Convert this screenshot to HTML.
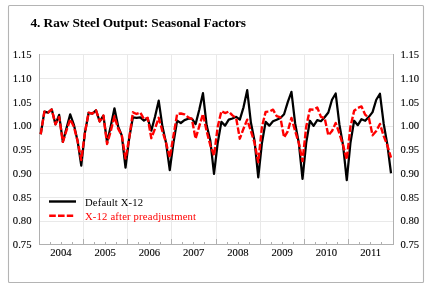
<!DOCTYPE html>
<html><head><meta charset="utf-8"><style>
html,body{margin:0;padding:0;background:#fff;}
svg{display:block;will-change:transform;}
text{font-family:"Liberation Serif",serif;}
</style></head><body>
<svg width="432" height="288" viewBox="0 0 432 288">
<rect x="0" y="0" width="432" height="288" fill="#fff"/>
<rect x="8.5" y="5.5" width="415" height="277" rx="1" fill="#fff" stroke="#b4b4b4" stroke-width="1.1"/>
<text x="30.5" y="27" font-size="13.33" font-weight="bold" letter-spacing="-0.08" fill="#000">4. Raw Steel Output: Seasonal Factors</text>
<g stroke="#e9e9e9" stroke-width="1"><line x1="39.5" y1="54.50" x2="393.5" y2="54.50"/><line x1="39.5" y1="78.50" x2="393.5" y2="78.50"/><line x1="39.5" y1="102.50" x2="393.5" y2="102.50"/><line x1="39.5" y1="126.50" x2="393.5" y2="126.50"/><line x1="39.5" y1="149.50" x2="393.5" y2="149.50"/><line x1="39.5" y1="173.50" x2="393.5" y2="173.50"/><line x1="39.5" y1="197.50" x2="393.5" y2="197.50"/><line x1="39.5" y1="221.50" x2="393.5" y2="221.50"/><line x1="83.50" y1="54.5" x2="83.50" y2="244.5"/><line x1="127.50" y1="54.5" x2="127.50" y2="244.5"/><line x1="171.50" y1="54.5" x2="171.50" y2="244.5"/><line x1="216.50" y1="54.5" x2="216.50" y2="244.5"/><line x1="260.50" y1="54.5" x2="260.50" y2="244.5"/><line x1="304.50" y1="54.5" x2="304.50" y2="244.5"/><line x1="348.50" y1="54.5" x2="348.50" y2="244.5"/></g>
<g stroke="#b0b0b0" stroke-width="1">
<line x1="39.5" y1="54" x2="39.5" y2="244.5"/>
<line x1="393.5" y1="54" x2="393.5" y2="244.5"/>
<line x1="39" y1="244.5" x2="394" y2="244.5"/>
<line x1="39.50" y1="239" x2="39.50" y2="244.5"/><line x1="50.50" y1="242" x2="50.50" y2="244.5"/><line x1="61.50" y1="242" x2="61.50" y2="244.5"/><line x1="72.50" y1="242" x2="72.50" y2="244.5"/><line x1="83.50" y1="239" x2="83.50" y2="244.5"/><line x1="94.50" y1="242" x2="94.50" y2="244.5"/><line x1="105.50" y1="242" x2="105.50" y2="244.5"/><line x1="116.50" y1="242" x2="116.50" y2="244.5"/><line x1="127.50" y1="239" x2="127.50" y2="244.5"/><line x1="138.50" y1="242" x2="138.50" y2="244.5"/><line x1="149.50" y1="242" x2="149.50" y2="244.5"/><line x1="160.50" y1="242" x2="160.50" y2="244.5"/><line x1="171.50" y1="239" x2="171.50" y2="244.5"/><line x1="182.50" y1="242" x2="182.50" y2="244.5"/><line x1="193.50" y1="242" x2="193.50" y2="244.5"/><line x1="204.50" y1="242" x2="204.50" y2="244.5"/><line x1="216.50" y1="239" x2="216.50" y2="244.5"/><line x1="227.50" y1="242" x2="227.50" y2="244.5"/><line x1="238.50" y1="242" x2="238.50" y2="244.5"/><line x1="249.50" y1="242" x2="249.50" y2="244.5"/><line x1="260.50" y1="239" x2="260.50" y2="244.5"/><line x1="271.50" y1="242" x2="271.50" y2="244.5"/><line x1="282.50" y1="242" x2="282.50" y2="244.5"/><line x1="293.50" y1="242" x2="293.50" y2="244.5"/><line x1="304.50" y1="239" x2="304.50" y2="244.5"/><line x1="315.50" y1="242" x2="315.50" y2="244.5"/><line x1="326.50" y1="242" x2="326.50" y2="244.5"/><line x1="337.50" y1="242" x2="337.50" y2="244.5"/><line x1="348.50" y1="239" x2="348.50" y2="244.5"/><line x1="359.50" y1="242" x2="359.50" y2="244.5"/><line x1="370.50" y1="242" x2="370.50" y2="244.5"/><line x1="381.50" y1="242" x2="381.50" y2="244.5"/><line x1="393.50" y1="239" x2="393.50" y2="244.5"/>
</g>
<g font-size="10.67" fill="#000" stroke="#000" stroke-width="0.1"><text x="31.5" y="58.10" text-anchor="end">1.15</text><text x="400.5" y="58.10">1.15</text><text x="31.5" y="81.85" text-anchor="end">1.10</text><text x="400.5" y="81.85">1.10</text><text x="31.5" y="105.60" text-anchor="end">1.05</text><text x="400.5" y="105.60">1.05</text><text x="31.5" y="129.35" text-anchor="end">1.00</text><text x="400.5" y="129.35">1.00</text><text x="31.5" y="153.10" text-anchor="end">0.95</text><text x="400.5" y="153.10">0.95</text><text x="31.5" y="176.85" text-anchor="end">0.90</text><text x="400.5" y="176.85">0.90</text><text x="31.5" y="200.60" text-anchor="end">0.85</text><text x="400.5" y="200.60">0.85</text><text x="31.5" y="224.35" text-anchor="end">0.80</text><text x="400.5" y="224.35">0.80</text><text x="31.5" y="248.10" text-anchor="end">0.75</text><text x="400.5" y="248.10">0.75</text><text x="60.92" y="256.0" text-anchor="middle">2004</text><text x="105.17" y="256.0" text-anchor="middle">2005</text><text x="149.43" y="256.0" text-anchor="middle">2006</text><text x="193.68" y="256.0" text-anchor="middle">2007</text><text x="237.93" y="256.0" text-anchor="middle">2008</text><text x="282.18" y="256.0" text-anchor="middle">2009</text><text x="326.43" y="256.0" text-anchor="middle">2010</text><text x="370.68" y="256.0" text-anchor="middle">2011</text></g>
<polyline points="40.70,134.30 44.39,111.59 48.08,112.54 51.76,109.46 55.45,124.23 59.14,114.83 62.83,141.90 66.51,128.12 70.20,114.30 73.89,124.80 77.58,140.95 81.26,165.65 84.95,132.49 88.64,112.78 92.33,113.64 96.01,110.31 99.70,121.48 103.39,115.58 107.08,142.09 110.76,126.32 114.45,108.27 118.14,126.32 121.83,135.58 125.51,167.64 129.20,138.19 132.89,117.29 136.57,117.77 140.26,117.29 143.95,120.62 147.64,118.24 151.32,130.59 155.01,116.82 158.70,100.67 162.39,126.32 166.07,142.94 169.76,170.02 173.45,142.94 177.14,120.62 180.82,122.99 184.51,120.14 188.20,118.72 191.89,118.72 195.57,124.18 199.26,109.69 202.95,93.21 206.64,125.37 210.32,140.57 214.01,173.96 217.70,142.94 221.39,121.90 225.07,125.65 228.76,119.67 232.45,118.48 236.14,116.82 239.82,119.58 243.51,107.32 247.20,90.22 250.89,122.52 254.57,141.04 258.26,177.29 261.95,142.94 265.64,121.90 269.32,125.65 273.01,121.28 276.70,119.67 280.39,118.01 284.07,114.25 287.76,102.09 291.45,91.79 295.14,123.47 298.82,142.94 302.51,178.95 306.20,142.94 309.89,120.76 313.57,125.84 317.26,120.14 320.95,121.24 324.64,117.29 328.32,112.54 332.01,99.72 335.70,93.54 339.39,124.42 343.07,145.32 346.76,180.14 350.45,142.94 354.14,120.76 357.82,125.18 361.51,119.19 365.20,120.76 368.89,116.82 372.57,112.07 376.26,99.72 379.95,93.78 383.64,123.47 387.32,144.37 391.01,173.25" fill="none" stroke="#000" stroke-width="2.25" stroke-linejoin="round"/>
<polyline points="40.70,134.30 44.39,111.59 48.08,112.54 51.76,109.46 55.45,124.23 59.14,116.96 62.83,141.90 66.51,130.50 70.20,119.34 73.89,126.70 77.58,140.95 81.26,159.95 84.95,132.49 88.64,112.78 92.33,113.64 96.01,110.31 99.70,121.48 103.39,115.58 107.08,144.04 110.76,131.07 114.45,116.25 118.14,128.69 121.83,135.58 125.51,158.62 129.20,138.19 132.89,112.31 136.57,113.97 140.26,112.54 143.95,119.19 147.64,117.77 151.32,138.19 155.01,128.69 158.70,117.77 162.39,131.07 166.07,142.94 169.76,157.67 173.45,135.82 177.14,113.97 180.82,113.49 184.51,114.44 188.20,117.29 191.89,119.19 195.57,138.67 199.26,126.32 202.95,113.97 206.64,131.07 210.32,145.32 214.01,155.58 217.70,126.79 221.39,111.21 225.07,113.02 228.76,111.59 232.45,115.39 236.14,117.96 239.82,138.67 243.51,128.69 247.20,119.67 250.89,131.07 254.57,142.94 258.26,162.32 261.95,126.79 265.64,111.88 269.32,111.59 273.01,109.69 276.70,116.11 280.39,117.48 284.07,137.39 287.76,131.26 291.45,117.91 295.14,131.07 298.82,142.94 302.51,161.14 306.20,126.79 309.89,109.36 313.57,109.69 317.26,107.51 320.95,116.82 324.64,117.96 328.32,135.34 332.01,131.07 335.70,122.99 339.39,133.44 343.07,145.32 346.76,159.57 350.45,126.79 354.14,110.79 357.82,107.98 361.51,106.37 365.20,114.68 368.89,117.96 372.57,135.34 376.26,131.07 379.95,123.94 383.64,135.82 387.32,145.32 391.01,157.67" fill="none" stroke="#f00" stroke-width="2.4" stroke-dasharray="6.6,2.2" stroke-linejoin="round"/>
<line x1="49" y1="201.5" x2="76" y2="201.5" stroke="#000" stroke-width="2.4"/>
<line x1="49.2" y1="215.8" x2="73.2" y2="215.8" stroke="#f00" stroke-width="2.4" stroke-dasharray="6.6,2.2"/>
<text x="85" y="205.7" font-size="10.67" letter-spacing="0.14" fill="#000">Default X-12</text>
<text x="85" y="219.8" font-size="10.67" letter-spacing="0.17" fill="#f00">X-12 after preadjustment</text>
</svg>
</body></html>
